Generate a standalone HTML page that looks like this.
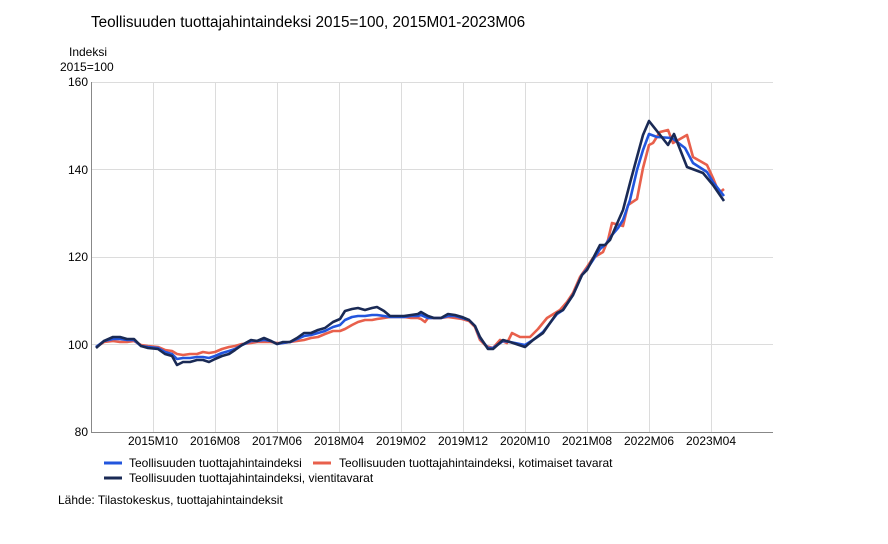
<!DOCTYPE html>
<html><head><meta charset="utf-8"><style>
body{margin:0;background:#fff;width:888px;height:539px;overflow:hidden;font-family:"Liberation Sans",sans-serif}
</style></head><body>
<svg width="888" height="539" xmlns="http://www.w3.org/2000/svg" font-family="Liberation Sans, sans-serif">
<text x="91" y="27" font-size="15.3" fill="#000">Teollisuuden tuottajahintaindeksi 2015=100, 2015M01-2023M06</text>
<text x="69" y="56" font-size="12">Indeksi</text>
<text x="60" y="71" font-size="12">2015=100</text>
<g stroke="#dcdcdc" stroke-width="1">
<line x1="91" y1="82.5" x2="773" y2="82.5"/><line x1="91" y1="169.5" x2="773" y2="169.5"/><line x1="91" y1="257.5" x2="773" y2="257.5"/><line x1="91" y1="344.5" x2="773" y2="344.5"/>
<line x1="153.5" y1="82" x2="153.5" y2="432"/><line x1="215.5" y1="82" x2="215.5" y2="432"/><line x1="277.5" y1="82" x2="277.5" y2="432"/><line x1="339.5" y1="82" x2="339.5" y2="432"/><line x1="401.5" y1="82" x2="401.5" y2="432"/><line x1="463.5" y1="82" x2="463.5" y2="432"/><line x1="525.5" y1="82" x2="525.5" y2="432"/><line x1="587.5" y1="82" x2="587.5" y2="432"/><line x1="649.5" y1="82" x2="649.5" y2="432"/><line x1="711.5" y1="82" x2="711.5" y2="432"/>
</g>
<line x1="91.5" y1="82" x2="91.5" y2="432" stroke="#888"/>
<line x1="91" y1="432.5" x2="773" y2="432.5" stroke="#888"/>
<g font-size="12" text-anchor="end"><text x="88" y="86">160</text><text x="88" y="174">140</text><text x="88" y="261">120</text><text x="88" y="349">100</text><text x="88" y="436">80</text></g>
<g font-size="12" text-anchor="middle"><text x="153" y="445">2015M10</text><text x="215" y="445">2016M08</text><text x="277" y="445">2017M06</text><text x="339" y="445">2018M04</text><text x="401" y="445">2019M02</text><text x="463" y="445">2019M12</text><text x="525" y="445">2020M10</text><text x="587" y="445">2021M08</text><text x="649" y="445">2022M06</text><text x="711" y="445">2023M04</text></g>
<g fill="none" stroke-width="2.6" stroke-linejoin="round">
<polyline stroke="#e8604c" points="96,347 104,342 113,341 120,342 127,342 134,341 141,345 148,346 158,347 165,350 172,351 177,354 183,355 190,354 197,354 203,352 209,353 215,352 222,349 229,347 235,346 242,344 251,343 257,342 264,342 271,342 277,343 283,343 290,342 297,341 304,340 311,338 318,337 325,334 333,331 340,331 345,329 352,325 358,322 365,320 372,320 377,319 384,318 390,317 397,317 404,317 411,318 418,318 421,319 425,322 428,318 434,318 441,318 448,317 455,318 462,319 469,321 475,327 480,340 486,346 493,348 500,340 507,343 512,333 520,337 530,337 538,329 547,318 560,310 567,302 573,293 580,277 587,267 593,258 603,252 608,240 612,223 623,226 628,205 637,199 643,168 649,145 653,143 660,132 668,130 673,143 687,135 693,157 707,165 713,178 719,193 724,189"/>
<polyline stroke="#2255dd" points="96,347 104,341 113,339 120,339 127,340 134,340 141,346 148,347 158,348 165,352 172,354 177,359 183,358 190,358 197,357 203,357 209,358 215,356 222,353 229,351 235,349 242,345 251,341 257,341 264,340 271,341 277,344 283,343 290,342 297,339 304,336 311,335 318,333 325,331 333,327 340,325 345,320 352,317 358,316 365,316 372,315 377,315 384,316 390,317 397,317 404,317 411,316 418,316 421,315 428,318 434,318 441,318 448,316 455,316 462,318 469,320 475,326 480,338 488,348 493,348 503,341 510,342 525,345 533,340 543,332 557,314 563,310 573,295 582,275 587,269 593,260 600,249 606,244 612,235 618,228 623,220 630,200 637,170 643,150 649,134 657,137 672,138 685,148 693,163 707,172 713,182 724,196"/>
<polyline stroke="#1a2a55" points="96,348 104,341 113,337 120,337 127,339 134,339 141,346 148,348 158,349 165,354 172,356 177,365 183,362 190,362 197,360 203,360 209,362 215,359 222,356 229,354 235,350 242,345 251,340 257,341 264,338 271,341 277,344 283,342 290,342 297,338 304,333 311,333 318,330 325,328 333,322 340,319 345,311 352,309 358,308 365,310 372,308 377,307 384,311 390,316 397,316 404,316 411,315 418,314 421,312 428,316 434,318 441,318 448,314 455,315 462,317 469,320 475,326 480,337 488,349 493,349 503,340 510,342 525,347 533,340 543,333 557,313 563,310 573,295 582,275 587,270 600,245 605,245 610,240 616,226 623,210 630,183 637,157 643,135 649,121 668,145 674,134 687,167 703,173 713,185 724,201"/>
</g>
<line x1="104" y1="463" x2="122" y2="463" stroke="#2255dd" stroke-width="3"/>
<text x="129" y="467" font-size="12">Teollisuuden tuottajahintaindeksi</text>
<line x1="313" y1="463" x2="331" y2="463" stroke="#e8604c" stroke-width="3"/>
<text x="339" y="467" font-size="12">Teollisuuden tuottajahintaindeksi, kotimaiset tavarat</text>
<line x1="104" y1="478" x2="122" y2="478" stroke="#1a2a55" stroke-width="3"/>
<text x="129" y="482" font-size="12">Teollisuuden tuottajahintaindeksi, vientitavarat</text>
<text x="58" y="504" font-size="12">Lähde: Tilastokeskus, tuottajahintaindeksit</text>
</svg>
</body></html>
